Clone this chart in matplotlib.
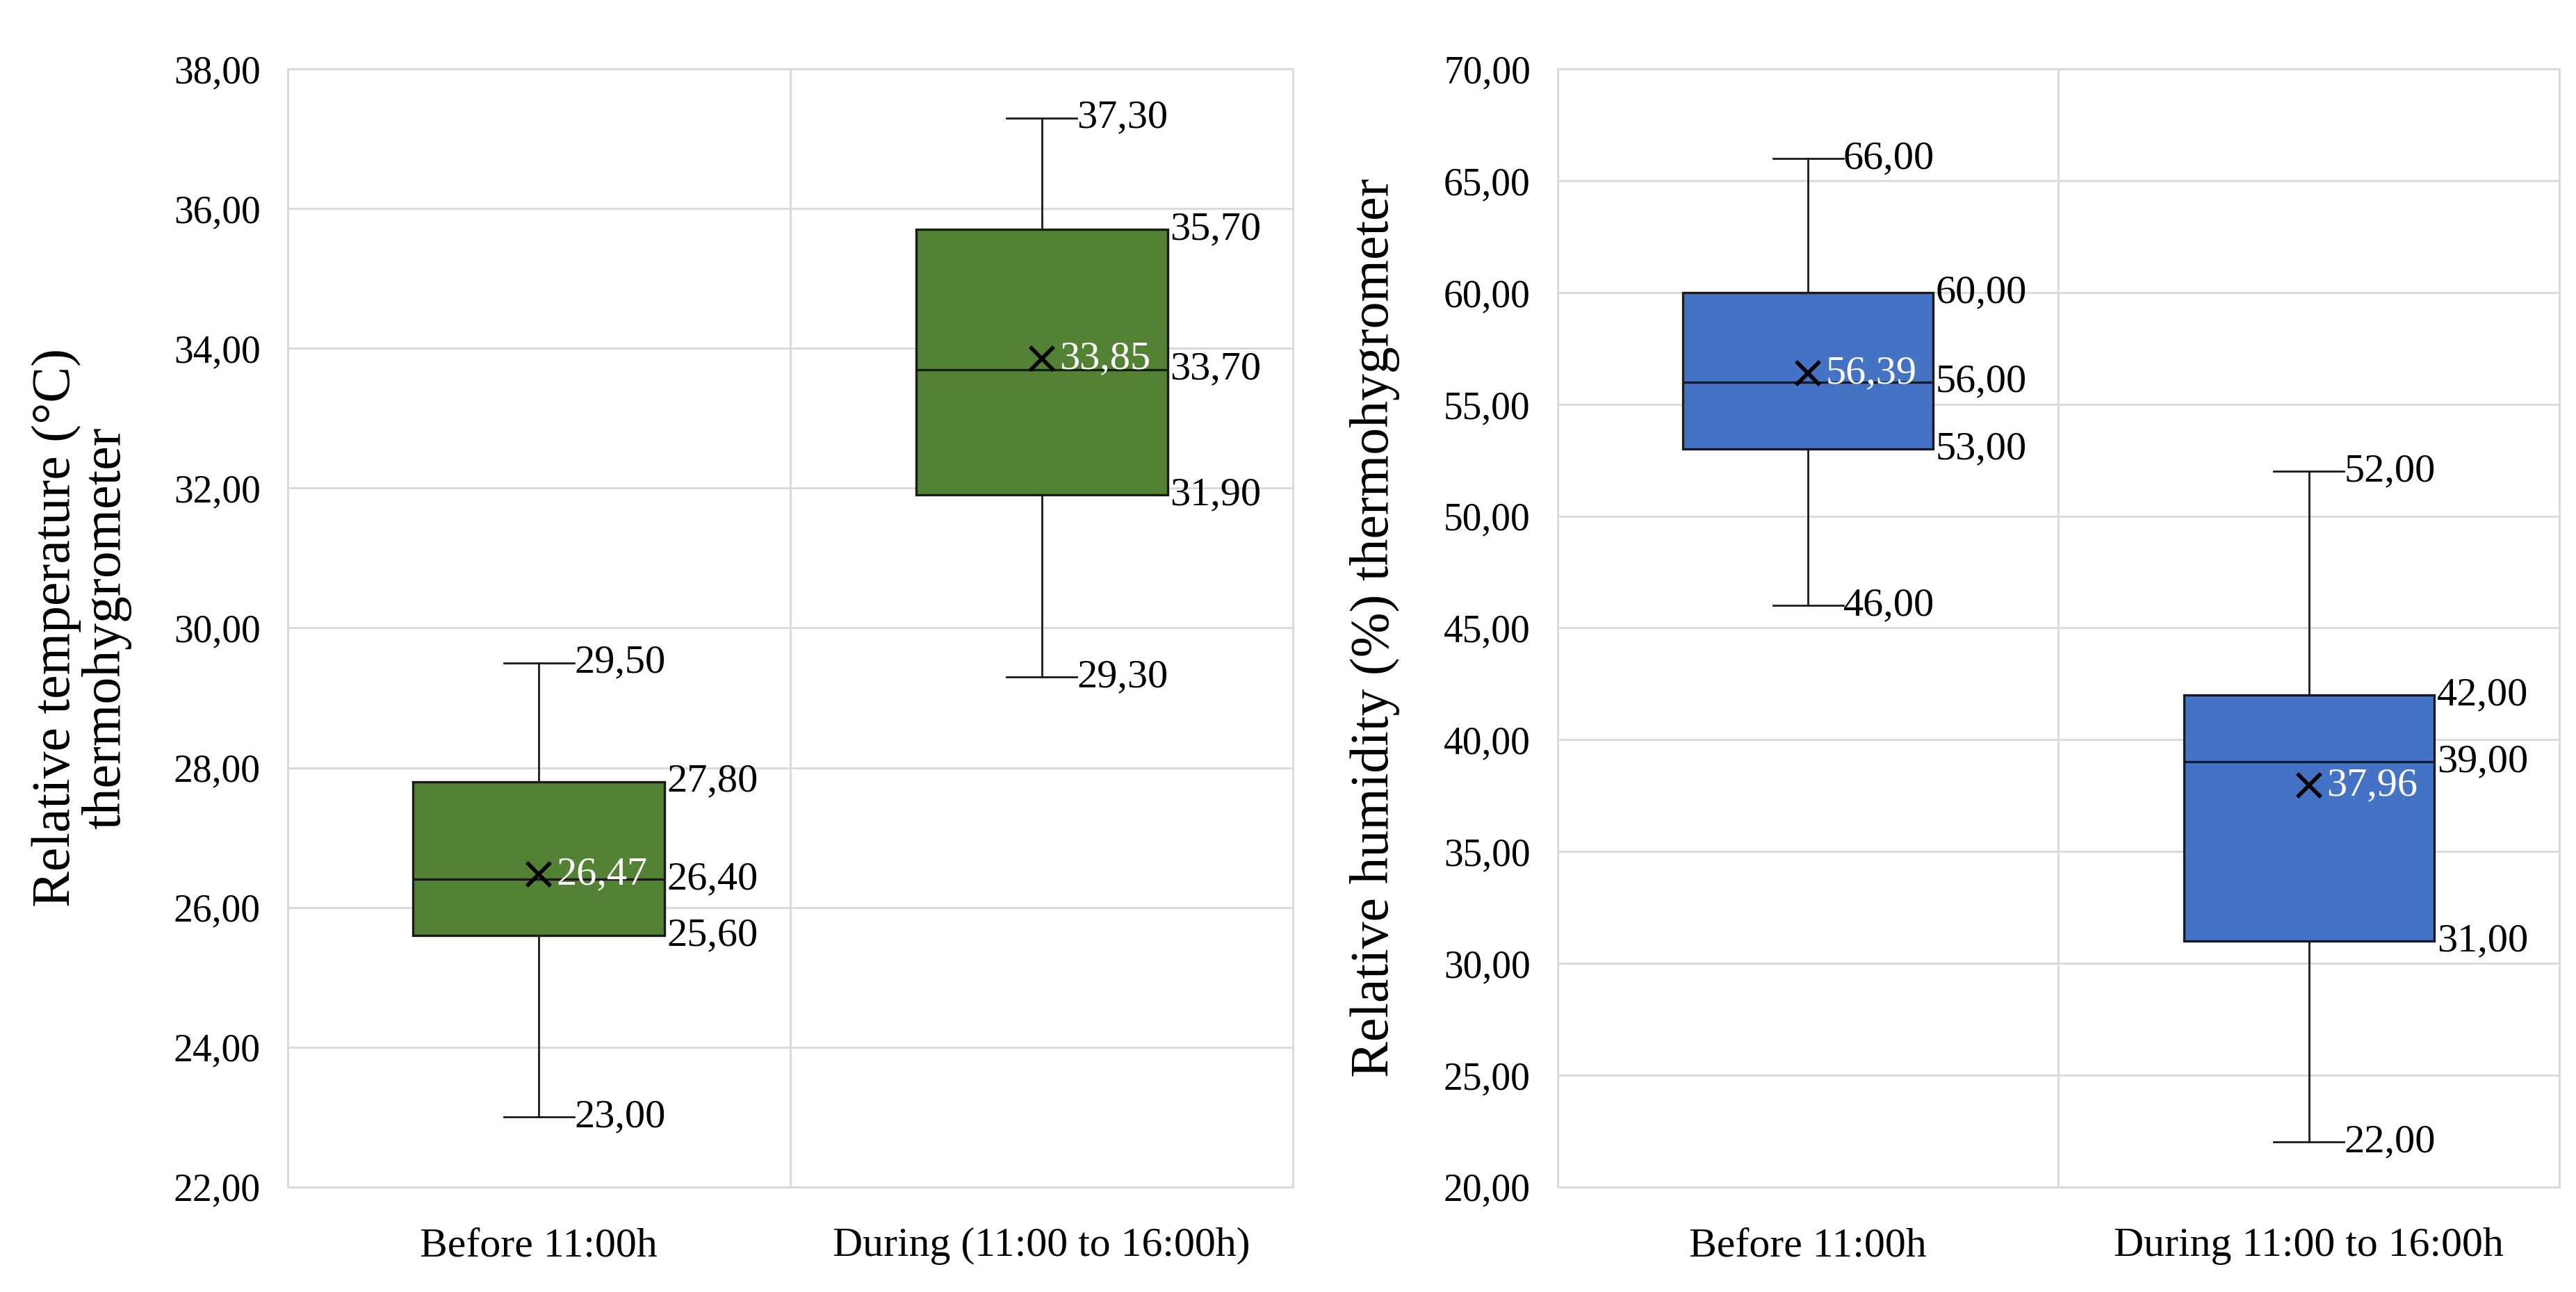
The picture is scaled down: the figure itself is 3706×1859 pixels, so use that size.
import matplotlib
matplotlib.use('Agg')
import matplotlib.pyplot as plt
import numpy as np

plt.rcParams['font.family'] = ['Liberation Serif', 'DejaVu Serif']

# temperature (thermohygrometer)
temp_cats = ['Before 11:00h', 'During (11:00 to 16:00h)']
temp_min = [23.00, 29.30]
temp_q1 = [25.60, 31.90]
temp_med = [26.40, 33.70]
temp_q3 = [27.80, 35.70]
temp_max = [29.50, 37.30]
temp_mean = [26.47, 33.85]

# relative humidity (thermohygrometer)
hum_cats = ['Before 11:00h', 'During 11:00 to 16:00h']
hum_min = [46.00, 22.00]
hum_q1 = [53.00, 31.00]
hum_med = [56.00, 39.00]
hum_q3 = [60.00, 42.00]
hum_max = [66.00, 52.00]
hum_mean = [56.39, 37.96]

temp_ticks = np.arange(22, 38.1, 2)
hum_ticks = np.arange(20, 70.1, 5)

GRID = '#D9D9D9'
BOX_W = 0.5
CAP_W = 0.14
FS = 21


def fmt(v):
    return f'{v:.2f}'.replace('.', ',')


def draw(ax, cats, mn, q1, med, q3, mx, mean, color, ticks, ylabel):
    stats = []
    for i in range(len(cats)):
        stats.append(dict(whislo=mn[i], q1=q1[i], med=med[i], q3=q3[i],
                          whishi=mx[i], mean=mean[i], fliers=[], label=cats[i]))
    pos = np.arange(1, len(cats) + 1)
    ax.bxp(stats, positions=pos, widths=BOX_W, capwidths=CAP_W,
           showmeans=True, patch_artist=True, showfliers=False,
           boxprops=dict(facecolor=color, edgecolor='#1a1a1a', linewidth=1.2),
           medianprops=dict(color='#1a1a1a', linewidth=1.2),
           whiskerprops=dict(color='#1a1a1a', linewidth=1.0),
           capprops=dict(color='#1a1a1a', linewidth=1.0),
           meanprops=dict(marker='x', markeredgecolor='black', markersize=12,
                          markeredgewidth=2), zorder=3)
    for i, p in enumerate(pos):
        # whisker ends
        ax.text(p + CAP_W / 2, mx[i], fmt(mx[i]), ha='left', va='center', fontsize=FS)
        ax.text(p + CAP_W / 2, mn[i], fmt(mn[i]), ha='left', va='center', fontsize=FS)
        # box values
        xb = p + BOX_W / 2 + 0.005
        ax.text(xb, q3[i], fmt(q3[i]), ha='left', va='center', fontsize=FS)
        ax.text(xb, med[i], fmt(med[i]), ha='left', va='center', fontsize=FS)
        ax.text(xb, q1[i], fmt(q1[i]), ha='left', va='center', fontsize=FS)
        # mean
        ax.text(p + 0.035, mean[i], fmt(mean[i]), ha='left', va='center',
                fontsize=FS, color='white', zorder=5)

    ax.set_xlim(0.5, len(cats) + 0.5)
    ax.set_ylim(ticks[0], ticks[-1])
    ax.set_yticks(ticks)
    ax.set_yticklabels([fmt(t) for t in ticks])
    ax.set_xticks(pos)
    ax.set_xticklabels(cats)
    ax.set_xticks(np.arange(1.5, len(cats), 1), minor=True)
    ax.grid(axis='y', color=GRID, linewidth=1.0, zorder=0)
    ax.grid(axis='x', which='minor', color=GRID, linewidth=1.0, zorder=0)
    ax.grid(axis='x', which='major', visible=False)
    ax.set_axisbelow(True)
    for s in ax.spines.values():
        s.set_color(GRID)
        s.set_linewidth(1.0)
    ax.tick_params(axis='both', which='both', length=0)
    ax.tick_params(axis='y', labelsize=20, pad=14)
    ax.tick_params(axis='x', labelsize=21.5, pad=21)
    ax.set_ylabel(ylabel, fontsize=28, linespacing=1.0)


fig = plt.figure(figsize=(18.53, 9.295), dpi=200)
ax1 = fig.add_axes([0.1116, 0.0814, 0.3904, 0.8652])
ax2 = fig.add_axes([0.6046, 0.0814, 0.389, 0.8652])

draw(ax1, temp_cats, temp_min, temp_q1, temp_med, temp_q3, temp_max, temp_mean,
     '#548235', temp_ticks, 'Relative temperature (°C)\nthermohygrometer')
draw(ax2, hum_cats, hum_min, hum_q1, hum_med, hum_q3, hum_max, hum_mean,
     '#4472C4', hum_ticks, 'Relative humidity (%) thermohygrometer')

ax1.yaxis.set_label_coords(-0.155, 0.5)
ax2.yaxis.set_label_coords(-0.157, 0.5)

fig.savefig('out.png', dpi=200)
